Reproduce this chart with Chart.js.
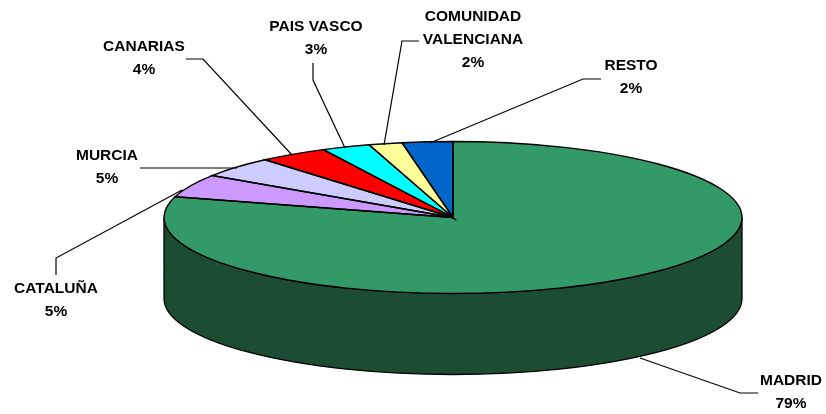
<!DOCTYPE html>
<html>
<head>
<meta charset="utf-8">
<style>
html, body { margin: 0; padding: 0; background: #fff; }
canvas { display: block; }
</style>
<script src="https://cdn.jsdelivr.net/npm/chart.js@4/dist/chart.umd.min.js"></script>
</head>
<body>
<canvas id="myChart" width="826" height="414"></canvas>
<script>
// clockwise from 12 o'clock
var regions = ["MADRID", "CATALUÑA", "MURCIA", "CANARIAS", "PAIS VASCO", "COMUNIDAD\nVALENCIANA", "RESTO"];
var shares = [79.4, 4.9, 4.42, 3.86, 2.72, 1.86, 2.83];
var shareLabels = ["79%", "5%", "5%", "4%", "3%", "2%", "2%"];
var sliceColors = ["#339966", "#CC99FF", "#CCCCFF", "#FF0000", "#00FFFF", "#FFFF99", "#0066CC"];
var sideColor = "#1C4D33";

// page layout of the tilted disc and its callouts
var disc = {x: 453, y: 217.5, rx: 289, ry: 76, depth: 81};
var labelSpots = [[791, 381], [56, 289], [107, 156], [144, 47], [316, 27], [473, 17], [631, 66]];
var leaders = [
    [[758, 393], [740, 393], [640, 358]],
    [[56, 275], [56, 258], [182, 190]],
    [[140, 168], [237, 168]],
    [[186, 59], [203, 59], [292, 155]],
    [[313, 63], [313, 80], [345, 148]],
    [[419, 41], [402, 41], [384, 145]],
    [[601, 79], [583, 79], [430, 143]]
];

function tilt(ctx, arc) {
    ctx.translate(disc.x, disc.y);
    ctx.scale(disc.rx / arc.outerRadius, disc.ry / arc.outerRadius);
    ctx.translate(-arc.x, -arc.y);
}

var pie3d = {
    id: "pie3d",
    beforeDatasetsDraw: function(chart) {
        var ctx = chart.ctx;
        var arc = chart.getDatasetMeta(0).data[0];

        // front wall of the disc
        ctx.save();
        ctx.beginPath();
        ctx.ellipse(disc.x, disc.y, disc.rx, disc.ry, 0, 0, Math.PI);
        ctx.lineTo(disc.x - disc.rx, disc.y + disc.depth);
        ctx.ellipse(disc.x, disc.y + disc.depth, disc.rx, disc.ry, 0, Math.PI, 0, true);
        ctx.closePath();
        ctx.fillStyle = sideColor;
        ctx.fill();
        ctx.lineWidth = 1.3;
        ctx.strokeStyle = "#000";
        ctx.stroke();
        ctx.restore();

        ctx.save();
        tilt(ctx, arc);
    },
    afterDatasetsDraw: function(chart) {
        var ctx = chart.ctx;
        var arcs = chart.getDatasetMeta(0).data;
        ctx.restore();

        // slice outlines, stroked outside the tilt so the pen stays even
        arcs.forEach(function(arc) {
            ctx.save();
            tilt(ctx, arc);
            ctx.beginPath();
            ctx.moveTo(arc.x, arc.y);
            ctx.arc(arc.x, arc.y, arc.outerRadius, arc.startAngle, arc.endAngle);
            ctx.closePath();
            ctx.restore();
            ctx.lineWidth = 1.4;
            ctx.strokeStyle = "#000";
            ctx.stroke();
        });

        // callouts
        ctx.save();
        ctx.lineWidth = 1.2;
        ctx.strokeStyle = "#000";
        leaders.forEach(function(pts) {
            ctx.beginPath();
            pts.forEach(function(p, i) {
                if (i == 0) ctx.moveTo(p[0], p[1]);
                else ctx.lineTo(p[0], p[1]);
            });
            ctx.stroke();
        });
        ctx.fillStyle = "#000";
        ctx.font = "bold 15.5px 'Liberation Sans'";
        ctx.textAlign = "center";
        ctx.textBaseline = "middle";
        regions.forEach(function(name, i) {
            var lines = name.split("\n").concat(shareLabels[i]);
            lines.forEach(function(line, j) {
                ctx.fillText(line, labelSpots[i][0], labelSpots[i][1] + j * 22.8);
            });
        });
        ctx.restore();
    }
};

new Chart("myChart", {
    type: "pie",
    data: {
        labels: regions,
        datasets: [{
            data: shares,
            backgroundColor: sliceColors,
            borderWidth: 0,
            clip: false
        }]
    },
    options: {
        responsive: false,
        animation: false,
        events: [],
        plugins: {
            legend: {display: false},
            tooltip: {enabled: false}
        }
    },
    plugins: [pie3d]
});
</script>
</body>
</html>
